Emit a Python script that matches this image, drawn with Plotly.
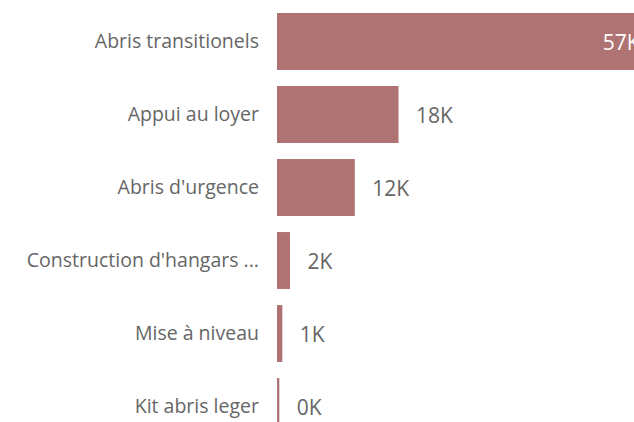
import plotly.graph_objects as go

categories = ["Abris transitionels", "Appui au loyer", "Abris d'urgence",
              "Construction d'hangars ...", "Mise à niveau", "Kit abris leger"]
values = [57200, 18200, 11650, 1950, 800, 350]
labels = ["57K", "18K", "12K", "2K", "1K", "0K"]
positions = ["inside", "outside", "outside", "outside", "outside", "outside"]

bar_color = "#B07373"
text_color = "#666666"
font_family = "Open Sans"

NB = "\u00a0"
display = [(lab + NB * 3) if pos == "inside" else (NB * 2 + "\u2009" + lab)
           for lab, pos in zip(labels, positions)]

fig = go.Figure(go.Bar(
    y=categories,
    x=[v / 1000 for v in values],
    orientation="h",
    marker=dict(color=bar_color, line=dict(width=0)),
    text=display,
    textposition=positions,
    insidetextanchor="end",
    insidetextfont=dict(color="white", size=21, family=font_family),
    outsidetextfont=dict(color=text_color, size=21, family=font_family),
    cliponaxis=False,
    constraintext="none",
    hoverinfo="skip",
))

fig.update_layout(
    width=660, height=445,
    margin=dict(l=277, r=0, t=5, b=2),
    paper_bgcolor="white", plot_bgcolor="white",
    bargap=0.22,
    showlegend=False,
    font=dict(family=font_family, color=text_color),
    xaxis=dict(range=[0, 57.35], visible=False, fixedrange=True),
    yaxis=dict(
        categoryorder="array", categoryarray=categories,
        range=[5.5, -0.5], autorange=False,
        showgrid=False, zeroline=False, showline=False, ticks="",
        tickfont=dict(size=19.5, color=text_color, family=font_family),
        ticklabelstandoff=17,
        fixedrange=True,
    ),
)

fig.write_html(
    "out.html",
    config={"displayModeBar": False},
    post_script="document.body.style.margin='0';document.body.style.overflow='hidden';",
)
